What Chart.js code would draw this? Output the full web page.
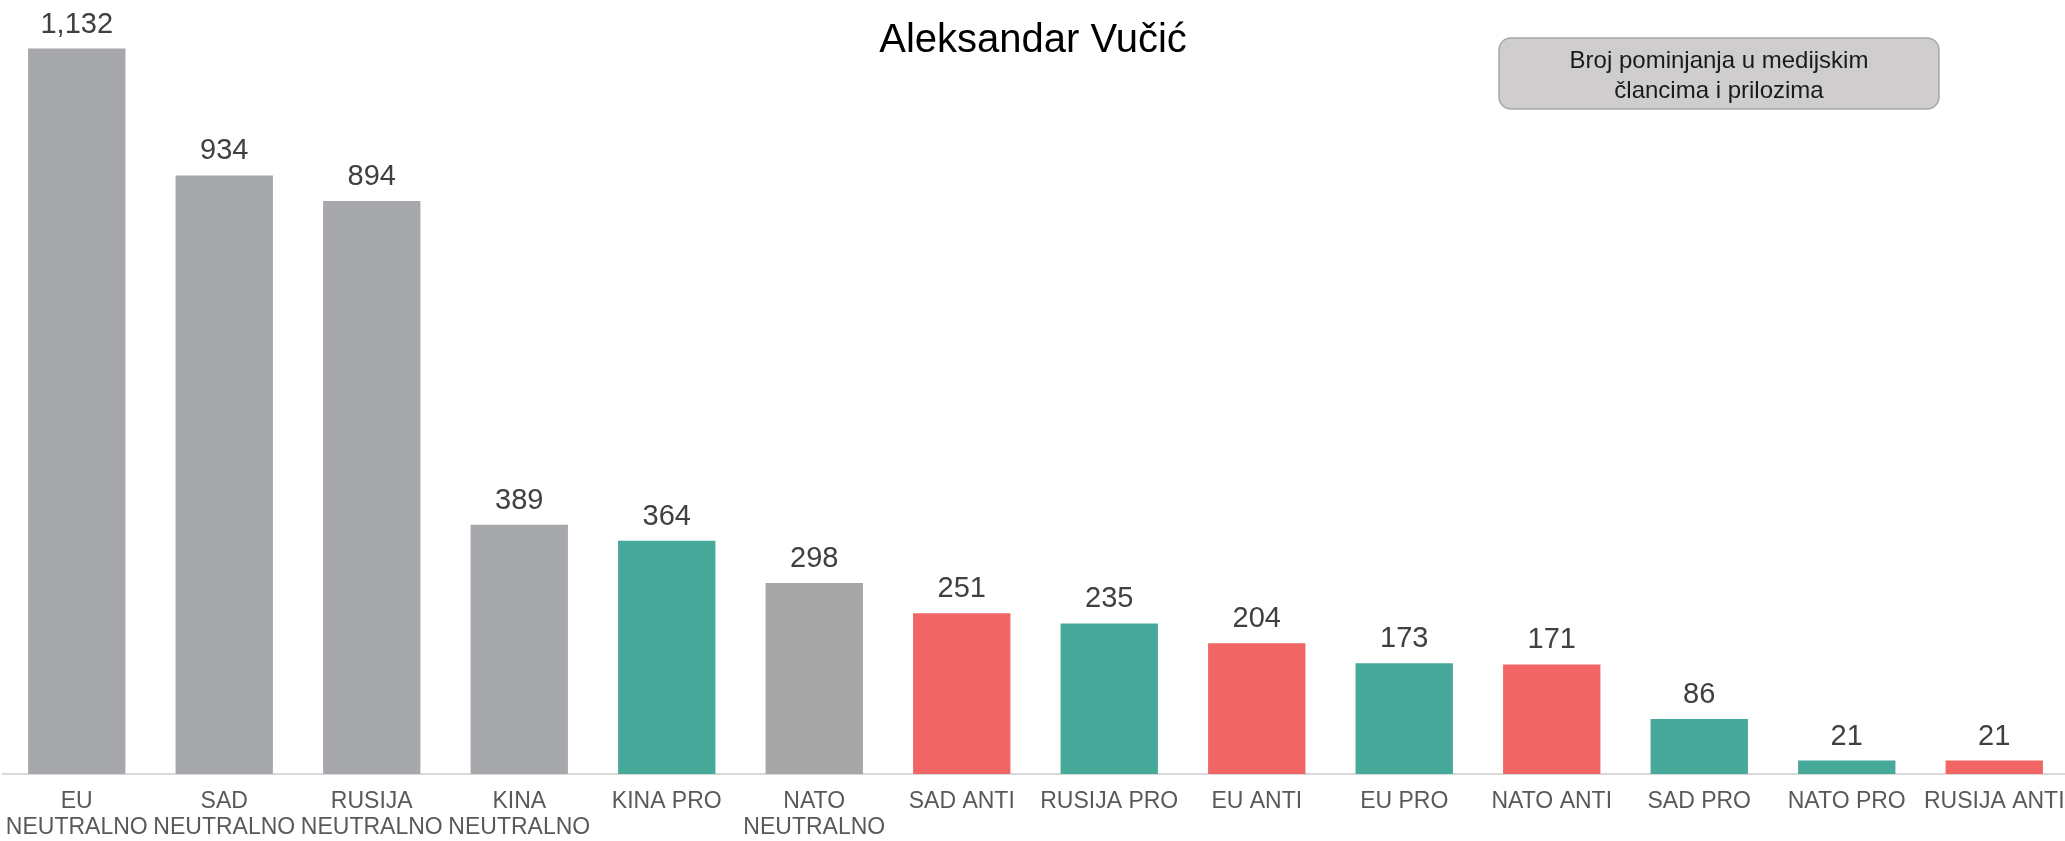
<!DOCTYPE html>
<html>
<head>
<meta charset="utf-8">
<script src="https://cdn.jsdelivr.net/npm/chart.js@4"></script>
<style>
  html, body { margin: 0; padding: 0; background: #fff; overflow: hidden; }
  #wrap { width: 2068px; height: 841px; position: relative; }
</style>
</head>
<body>
<div id="wrap"><canvas id="myChart"></canvas></div>
<script>
const labels = [
   ['EU', 'NEUTRALNO'],
   ['SAD', 'NEUTRALNO'],
   ['RUSIJA', 'NEUTRALNO'],
   ['KINA', 'NEUTRALNO'],
   'KINA PRO',
   ['NATO', 'NEUTRALNO'],
   'SAD ANTI',
   'RUSIJA PRO',
   'EU ANTI',
   'EU PRO',
   'NATO ANTI',
   'SAD PRO',
   'NATO PRO',
   'RUSIJA ANTI',
];
const values = [1132, 934, 894, 389, 364, 298, 251, 235, 204, 173, 171, 86, 21, 21];
const barColors = [
   '#a7a8ac', '#a7a8ac', '#a7a8ac', '#a7a8ac',
   '#47a99a', '#a6a6a6', '#f16565', '#47a99a',
   '#f16565', '#47a99a', '#f16565', '#47a99a',
   '#47a99a', '#f16565',
];
const title = 'Aleksandar Vučić';
const boxText = ['Broj pominjanja u medijskim', 'člancima i prilozima'];

const FONT = '"Liberation Sans", Arial, sans-serif';

// values above the bars
const valueLabels = {
   id: 'valueLabels',
   afterDatasetsDraw(chart) {
      const ctx = chart.ctx;
      const meta = chart.getDatasetMeta(0);
      ctx.save();
      ctx.font = '29px ' + FONT;
      ctx.fillStyle = '#404040';
      ctx.textAlign = 'center';
      ctx.textBaseline = 'alphabetic';
      meta.data.forEach((bar, i) => {
         ctx.fillText(values[i].toLocaleString('en-US'), bar.x, bar.y - 16);
      });
      ctx.restore();
   },
};

// title and the grey note box
const decorations = {
   id: 'decorations',
   afterDraw(chart) {
      const ctx = chart.ctx;
      ctx.save();
      ctx.font = '40px ' + FONT;
      ctx.fillStyle = '#000';
      ctx.textAlign = 'center';
      ctx.textBaseline = 'middle';
      ctx.fillText(title, 1033, 41);

      const x = 1499, y = 38, w = 440, h = 71;
      ctx.beginPath();
      ctx.roundRect(x, y, w, h, 12);
      ctx.fillStyle = '#cfcdce';
      ctx.fill();
      ctx.lineWidth = 1.5;
      ctx.strokeStyle = '#a8a8a8';
      ctx.stroke();

      ctx.font = '24px ' + FONT;
      ctx.fillStyle = '#1a1a1a';
      ctx.fillText(boxText[0], x + w / 2, 61);
      ctx.fillText(boxText[1], x + w / 2, 91);
      ctx.restore();
   },
};

const data = {
   labels: labels,
   datasets: [
      {
         data: values,
         backgroundColor: barColors,
         categoryPercentage: 1,
         barPercentage: 0.66,
      },
   ],
};

const config = {
   type: 'bar',
   data: data,
   options: {
      responsive: true,
      maintainAspectRatio: false,
      animation: false,
      layout: { padding: { top: 5, left: 3, right: 0, bottom: 0 } },
      plugins: {
         legend: { display: false },
         tooltip: { enabled: false },
      },
      scales: {
         x: {
            grid: { display: false, drawTicks: false },
            border: { display: true, color: '#d9d9d9', width: 2 },
            ticks: {
               autoSkip: false,
               maxRotation: 0,
               padding: 14,
               color: '#595959',
               font: { family: FONT, size: 23, lineHeight: 1.15 },
            },
            afterFit(scale) {
               scale.height = 67;
               scale.paddingLeft = 0;
               scale.paddingRight = 0;
            },
         },
         y: {
            display: false,
            min: 0,
            max: 1200,
         },
      },
   },
   plugins: [valueLabels, decorations],
};
const myChart = new Chart(document.getElementById('myChart'), config);
</script>
</body>
</html>
